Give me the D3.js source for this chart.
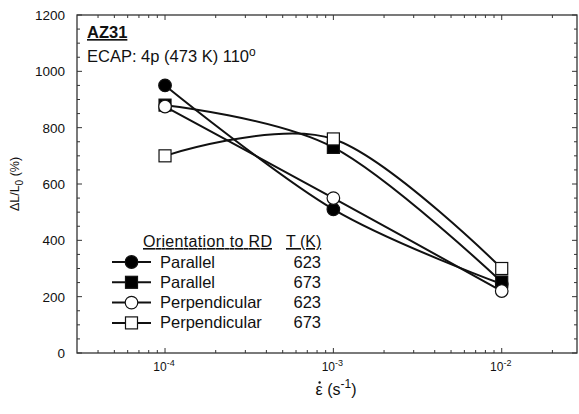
<!DOCTYPE html>
<html>
<head>
<meta charset="utf-8">
<script src="https://cdn.jsdelivr.net/npm/d3@7"></script>
<style>
  body { margin: 0; background: #fff; }
  text { font-family: "Liberation Sans", Arial, sans-serif; fill: #111; }
</style>
</head>
<body>
<div id="chart"></div>
<script>
// strain rates (s^-1) and elongation to failure (%)
const rates = [1e-4, 1e-3, 1e-2];
const parallel623 = [950, 510, 245];
const parallel673 = [880, 730, 252];
const perpendicular623 = [875, 550, 220];
const perpendicular673 = [700, 760, 300];

const seriesNames = ["Parallel", "Parallel", "Perpendicular", "Perpendicular"];
const seriesTemps = ["623", "673", "623", "673"];
const seriesShapes = ["circle", "square", "circle", "square"];
const seriesFilled = [true, true, false, false];
const seriesValues = [parallel623, parallel673, perpendicular623, perpendicular673];

const yTicks = [0, 200, 400, 600, 800, 1000, 1200];
const xTickExps = [-4, -3, -2];

const W = 579, H = 414;
const plot = { left: 77, right: 577, top: 15, bottom: 353 };

const svg = d3.select("#chart").append("svg")
  .attr("width", W)
  .attr("height", H);

const x = d3.scaleLog().domain([3e-5, 2.8e-2]).range([plot.left, plot.right]);
const y = d3.scaleLinear().domain([0, 1200]).range([plot.bottom, plot.top]);

const axisColor = "#333";

// minor ticks
const yMinor = d3.range(0, 1201, 50).filter(v => v % 200 !== 0);
const xMinor = [];
[-5, -4, -3, -2].forEach(e => {
  for (let m = 2; m <= 9; m++) {
    const v = m * Math.pow(10, e);
    if (v > x.domain()[0] * 1.01 && v < x.domain()[1]) xMinor.push(v);
  }
});
const xMajor = xTickExps.map(e => Math.pow(10, e));

// frame
svg.append("rect")
  .attr("x", plot.left).attr("y", plot.top)
  .attr("width", plot.right - plot.left)
  .attr("height", plot.bottom - plot.top)
  .attr("fill", "none")
  .attr("stroke", axisColor)
  .attr("stroke-width", 1.3);

const ticks = svg.append("g").attr("stroke", axisColor).attr("stroke-width", 1);

// left & right ticks (inward)
yTicks.forEach(v => {
  ticks.append("line").attr("x1", plot.left).attr("x2", plot.left + 5).attr("y1", y(v)).attr("y2", y(v));
  ticks.append("line").attr("x1", plot.right).attr("x2", plot.right - 5).attr("y1", y(v)).attr("y2", y(v));
});
yMinor.forEach(v => {
  ticks.append("line").attr("x1", plot.left).attr("x2", plot.left + 3).attr("y1", y(v)).attr("y2", y(v));
  ticks.append("line").attr("x1", plot.right).attr("x2", plot.right - 3).attr("y1", y(v)).attr("y2", y(v));
});
// bottom & top ticks (inward)
xMajor.forEach(v => {
  ticks.append("line").attr("x1", x(v)).attr("x2", x(v)).attr("y1", plot.bottom).attr("y2", plot.bottom - 5);
  ticks.append("line").attr("x1", x(v)).attr("x2", x(v)).attr("y1", plot.top).attr("y2", plot.top + 5);
});
xMinor.forEach(v => {
  ticks.append("line").attr("x1", x(v)).attr("x2", x(v)).attr("y1", plot.bottom).attr("y2", plot.bottom - 3);
  ticks.append("line").attr("x1", x(v)).attr("x2", x(v)).attr("y1", plot.top).attr("y2", plot.top + 3);
});

// y tick labels
svg.append("g").selectAll("text")
  .data(yTicks)
  .join("text")
  .attr("x", plot.left - 12)
  .attr("y", d => y(d) + 5)
  .attr("text-anchor", "end")
  .attr("font-size", 13.5)
  .text(d => d);

// x tick labels: 10^n
const xl = svg.append("g").selectAll("text")
  .data(xTickExps)
  .join("text")
  .attr("x", d => x(Math.pow(10, d)) - 1)
  .attr("y", 371)
  .attr("text-anchor", "middle")
  .attr("font-size", 12);
xl.append("tspan").text("10");
xl.append("tspan").attr("dy", -5).attr("font-size", 9).text(d => "-" + Math.abs(d));

// axis titles
const xt = svg.append("text")
  .attr("x", 336)
  .attr("y", 395)
  .attr("text-anchor", "middle")
  .attr("font-size", 16);
xt.append("tspan").text("ε (s");
xt.append("tspan").attr("dy", -7).attr("font-size", 12).text("-1");
xt.append("tspan").attr("dy", 7).text(")");
// dot above epsilon (strain rate)
const eps = xt.node().getExtentOfChar(0);
svg.append("circle")
  .attr("cx", eps.x + eps.width / 2 + 0.5)
  .attr("cy", 395 - 12.5)
  .attr("r", 1.2)
  .attr("fill", "#111");

const yt = svg.append("text")
  .attr("transform", `translate(19,${(plot.top + plot.bottom) / 2}) rotate(-90)`)
  .attr("text-anchor", "middle")
  .attr("font-size", 12.5);
yt.append("tspan").text("ΔL/L");
yt.append("tspan").attr("dy", 4).attr("font-size", 10).text("0");
yt.append("tspan").attr("dy", -4).text(" (%)");

// annotations
svg.append("text")
  .attr("x", 87).attr("y", 38)
  .attr("font-size", 16.5)
  .attr("font-weight", "bold")
  .attr("text-decoration", "underline")
  .text("AZ31");
const ecap = svg.append("text")
  .attr("x", 87).attr("y", 62)
  .attr("font-size", 16.5);
ecap.append("tspan").text("ECAP: 4p (473 K) 110");
ecap.append("tspan").attr("dy", -6).attr("font-size", 12).text("o");

// curves
const line = d3.line()
  .x(d => x(d[0]))
  .y(d => y(d[1]))
  .curve(d3.curveCardinal.tension(0));

seriesValues.forEach(vals => {
  svg.append("path")
    .datum(rates.map((r, i) => [r, vals[i]]))
    .attr("d", line)
    .attr("fill", "none")
    .attr("stroke", "#111")
    .attr("stroke-width", 2);
});

function drawMarker(g, cx, cy, shape, filled) {
  if (shape === "circle") {
    g.append("circle")
      .attr("cx", cx).attr("cy", cy).attr("r", 6.3)
      .attr("fill", filled ? "#000" : "#fff")
      .attr("stroke", "#111").attr("stroke-width", 1.2);
  } else {
    g.append("rect")
      .attr("x", cx - 6).attr("y", cy - 6)
      .attr("width", 12).attr("height", 12)
      .attr("fill", filled ? "#000" : "#fff")
      .attr("stroke", "#111").attr("stroke-width", 1.2);
  }
}

const markers = svg.append("g");
seriesValues.forEach((vals, s) => {
  rates.forEach((r, i) => {
    drawMarker(markers, x(r), y(vals[i]), seriesShapes[s], seriesFilled[s]);
  });
});

// legend
const legend = svg.append("g");
legend.append("text")
  .attr("x", 143).attr("y", 247)
  .attr("font-size", 16)
  .attr("text-decoration", "underline")
  .attr("textLength", 129)
  .text("Orientation to RD");
legend.append("text")
  .attr("x", 286).attr("y", 247)
  .attr("font-size", 16)
  .attr("text-decoration", "underline")
  .text("T (K)");

seriesNames.forEach((name, i) => {
  const cy = 262 + i * 20.3;
  legend.append("line")
    .attr("x1", 112).attr("x2", 151)
    .attr("y1", cy).attr("y2", cy)
    .attr("stroke", "#111").attr("stroke-width", 2);
  drawMarker(legend, 131.5, cy, seriesShapes[i], seriesFilled[i]);
  legend.append("text")
    .attr("x", 160).attr("y", cy + 5.5)
    .attr("font-size", 16.5)
    .text(name);
  legend.append("text")
    .attr("x", 321).attr("y", cy + 5.5)
    .attr("text-anchor", "end")
    .attr("font-size", 16.5)
    .text(seriesTemps[i]);
});
</script>
</body>
</html>
